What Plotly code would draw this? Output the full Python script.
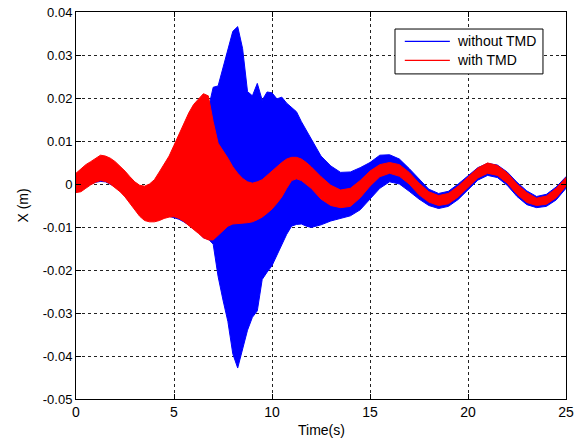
import plotly.graph_objects as go

# time samples (s)
time_s = [0, 0.25, 0.5, 0.75, 1.0, 1.25, 1.5, 1.75, 2.0, 2.25, 2.5, 2.75, 3.0, 3.25, 3.5, 3.75,
          4.0, 4.25, 4.5, 4.75, 5.0, 5.25, 5.5, 5.75, 6.0, 6.25, 6.5, 6.75, 7.0, 7.25, 7.5, 7.75,
          8.0, 8.25, 8.5, 8.75, 9.0, 9.25, 9.5, 9.75, 10.0, 10.25, 10.5, 10.75, 11.0, 11.25, 11.5, 11.75,
          12.0, 12.5, 13.0, 13.5, 14.0, 14.5, 15.0, 15.5, 16.0, 16.5, 17.0, 17.5, 18.0, 18.5, 19.0, 19.5,
          20.0, 20.5, 21.0, 21.5, 22.0, 22.5, 23.0, 23.5, 24.0, 24.5, 25.0]

# "without TMD" response envelope (upper / lower peaks of the fast oscillation), m
without_upper = [0.0015, 0.0025, 0.0035, 0.0045, 0.005, 0.0055, 0.0055, 0.005, 0.0042, 0.0033, 0.0022, 0.001,
                 0.0, -0.001, -0.0012, -0.0008, 0.0, 0.0015, 0.003, 0.0045, 0.006, 0.0075, 0.009, 0.0105,
                 0.012, 0.0135, 0.015, 0.0175, 0.0225, 0.0228, 0.0272, 0.031, 0.0355, 0.0366, 0.0315, 0.0215,
                 0.0205, 0.0234, 0.0195, 0.0214, 0.0212, 0.0198, 0.0202, 0.0188, 0.0178, 0.0168, 0.0145, 0.0125,
                 0.0105, 0.0065, 0.0042, 0.0027, 0.0028, 0.0038, 0.005, 0.0067, 0.0068, 0.0058, 0.0036, 0.0011,
                 -0.0012, -0.0022, -0.0017, 0.0, 0.0018, 0.0038, 0.0048, 0.0044, 0.0028, 0.0004, -0.0016, -0.0029,
                 -0.0024, -0.0007, 0.0017]
without_lower = [-0.0015, -0.0012, -0.0005, 0.0, 0.0004, 0.0006, 0.0005, 0.0, -0.0006, -0.0015, -0.0027, -0.004,
                 -0.0055, -0.0068, -0.0076, -0.008, -0.008, -0.0078, -0.0075, -0.0075, -0.0078, -0.0082, -0.0088, -0.0095,
                 -0.0103, -0.0112, -0.0125, -0.0128, -0.014, -0.0215, -0.027, -0.032, -0.0395, -0.0428, -0.0385, -0.034,
                 -0.031, -0.0295, -0.0222, -0.0205, -0.019, -0.0165, -0.0142, -0.0117, -0.0098, -0.0094, -0.0093, -0.0098,
                 -0.0101, -0.0095, -0.0086, -0.008, -0.0074, -0.006, -0.0035, -0.001, 0.0005, 0.0, -0.0017, -0.0035,
                 -0.005, -0.0057, -0.0052, -0.0036, -0.0013, 0.0009, 0.002, 0.0015, -0.0003, -0.0029, -0.0048, -0.0055,
                 -0.0052, -0.0037, -0.001]

# "with TMD" response envelope, m
with_upper = [0.0025, 0.0035, 0.0045, 0.0052, 0.006, 0.0067, 0.0065, 0.006, 0.0052, 0.0042, 0.003, 0.0017,
              0.0005, -0.0003, -0.0005, 0.0, 0.001, 0.0028, 0.0045, 0.0065, 0.009, 0.0115, 0.014, 0.0165,
              0.0185, 0.0198, 0.021, 0.0205, 0.0145, 0.0095, 0.0078, 0.006, 0.004, 0.0025, 0.0013, 0.0005,
              0.0002, 0.0005, 0.001, 0.002, 0.0032, 0.0042, 0.005, 0.0058, 0.0062, 0.0062, 0.0058, 0.005,
              0.004, 0.0017, -0.0003, -0.0014, -0.001, 0.0008, 0.003, 0.0045, 0.005, 0.0045, 0.0027, 0.0002,
              -0.0018, -0.0027, -0.0022, -0.0005, 0.0016, 0.0037, 0.0049, 0.0043, 0.0026, 0.0, -0.002, -0.0033,
              -0.0028, -0.001, 0.0015]
with_lower = [-0.002, -0.0018, -0.001, -0.0002, 0.0004, 0.0008, 0.0006, 0.0, -0.0008, -0.0018, -0.003, -0.0045,
              -0.006, -0.0075, -0.0085, -0.0088, -0.0088, -0.0085, -0.008, -0.0077, -0.0076, -0.008, -0.0087, -0.0095,
              -0.0105, -0.0115, -0.0125, -0.013, -0.013, -0.012, -0.0108, -0.0098, -0.0093, -0.0092, -0.0091, -0.009,
              -0.0088, -0.0083, -0.0077, -0.0068, -0.0058, -0.0045, -0.003, -0.001, 0.0008, 0.0012, 0.0008, 0.0,
              -0.001, -0.0035, -0.005, -0.0055, -0.0052, -0.0032, -0.0005, 0.0017, 0.0025, 0.0018, 0.0, -0.0025,
              -0.0042, -0.005, -0.0046, -0.003, -0.0008, 0.0014, 0.0025, 0.002, 0.0002, -0.0024, -0.0043, -0.005,
              -0.0047, -0.0032, -0.0005]

x_ticks = [0, 5, 10, 15, 20, 25]
x_tick_labels = ["0", "5", "10", "15", "20", "25"]
y_ticks = [-0.05, -0.04, -0.03, -0.02, -0.01, 0, 0.01, 0.02, 0.03, 0.04]
y_tick_labels = ["-0.05", "-0.04", "-0.03", "-0.02", "-0.01", "0", "0.01", "0.02", "0.03", "0.04"]
x_title = "Time(s)"
y_title = "X (m)"

series = [
    ("without TMD", without_upper, without_lower, "#0000ff"),
    ("with TMD", with_upper, with_lower, "#ff0000"),
]

FONT = "Liberation Sans, Arial, sans-serif"
fig = go.Figure()
for name, up, lo, col in series:
    fig.add_trace(go.Scatter(
        x=time_s + time_s[::-1], y=up + lo[::-1], name=name,
        mode="lines", fill="toself", fillcolor=col,
        line=dict(color=col, width=1), showlegend=False, hoverinfo="skip"))

axis_common = dict(showline=True, linecolor="black", linewidth=1, mirror="ticks",
                   ticks="inside", ticklen=5, tickcolor="black", automargin=False,
                   ticklabeloverflow="allow",
                   showgrid=True, gridcolor="#222222", griddash="dot", gridwidth=1,
                   zeroline=False)
fig.update_xaxes(range=[0, 25], tickvals=x_ticks, ticktext=x_tick_labels,
                 tickfont=dict(family=FONT, size=14, color="black"), **axis_common)
fig.update_yaxes(range=[-0.05, 0.04], tickvals=y_ticks, ticktext=y_tick_labels,
                 tickfont=dict(family=FONT, size=13, color="black"), **axis_common)
fig.add_annotation(text=x_title, xref="paper", yref="paper", x=0.5, y=-0.08,
                   showarrow=False, xanchor="center", yanchor="middle",
                   font=dict(family=FONT, size=14, color="black"))
fig.add_annotation(text=y_title, xref="paper", yref="paper", x=-0.11, y=0.5,
                   showarrow=False, xanchor="center", yanchor="middle", textangle=-90,
                   font=dict(family=FONT, size=14, color="black"))

# legend box drawn in paper coordinates (MATLAB-style)
fig.add_shape(type="rect", xref="paper", yref="paper", x0=0.651, x1=0.953, y0=0.840, y1=0.956,
              line=dict(color="black", width=1), fillcolor="white", layer="above")
legend_rows = [0.924, 0.875]
for (name, up, lo, col), ly in zip(series, legend_rows):
    fig.add_shape(type="line", xref="paper", yref="paper", x0=0.671, x1=0.763, y0=ly, y1=ly,
                  line=dict(color=col, width=1.2), layer="above")
    fig.add_annotation(text=name, xref="paper", yref="paper", x=0.773, y=ly,
                       xanchor="left", yanchor="middle", showarrow=False,
                       font=dict(family=FONT, size=14, color="black"))

fig.update_layout(
    width=579, height=441,
    margin=dict(l=76, r=13, t=12, b=42),
    paper_bgcolor="white", plot_bgcolor="white",
    font=dict(family=FONT, size=14, color="black"),
    showlegend=False,
)
# remove the browser's default 8px body margin so the figure fills the 579x441 window
fig.write_html("out.html", config={"displayModeBar": False},
               post_script="document.body.style.margin='0px';")
